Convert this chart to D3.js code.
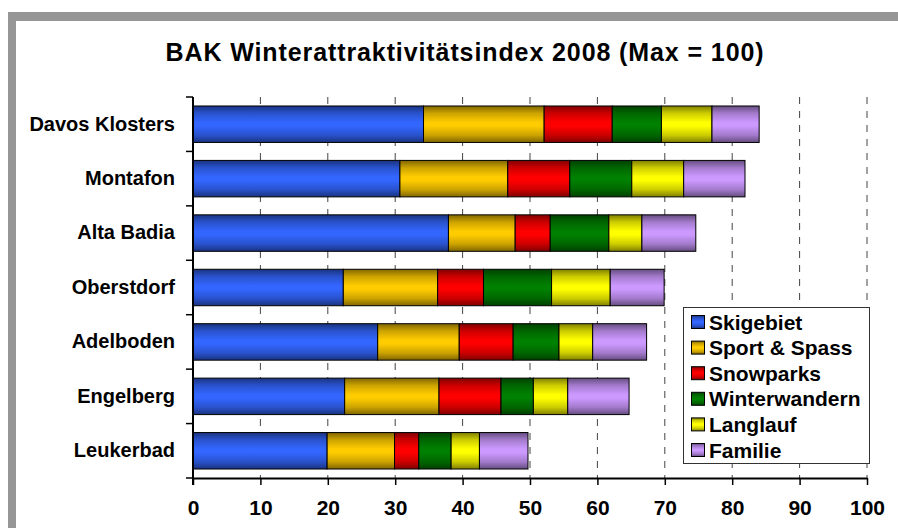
<!DOCTYPE html>
<html>
<head>
<meta charset="utf-8">
<script src="https://cdn.jsdelivr.net/npm/d3@7/dist/d3.min.js"></script>
<style>
  html, body { margin: 0; padding: 0; background: #fff; }
  svg { display: block; }
  text { font-family: "Liberation Sans", Arial, sans-serif; font-weight: bold; fill: #000; }
</style>
</head>
<body>
<svg id="chart" width="898" height="528"></svg>
<script>
const categories = ["Davos Klosters", "Montafon", "Alta Badia", "Oberstdorf", "Adelboden", "Engelberg", "Leukerbad"];
const seriesNames = ["Skigebiet", "Sport & Spass", "Snowparks", "Winterwandern", "Langlauf", "Familie"];
const skigebiet     = [34.2, 30.7, 37.9, 22.3, 27.4, 22.5, 19.9];
const sportSpass    = [17.9, 16.0,  9.9, 14.0, 12.1, 14.0, 10.0];
const snowparks     = [10.1,  9.2,  5.2,  6.8,  8.0,  9.2,  3.6];
const winterwandern = [ 7.3,  9.2,  8.7, 10.1,  6.8,  4.8,  4.8];
const langlauf      = [ 7.5,  7.7,  4.9,  8.7,  5.0,  5.1,  4.2];
const familie       = [ 7.0,  9.1,  8.0,  8.0,  8.0,  9.1,  7.2];
const xTicks = [0, 10, 20, 30, 40, 50, 60, 70, 80, 90, 100];
const titleText = "BAK Winterattraktivitätsindex 2008 (Max = 100)";

const seriesValues = [skigebiet, sportSpass, snowparks, winterwandern, langlauf, familie];
const colors = ["#3366ff", "#ffcc00", "#ff0000", "#008000", "#ffff00", "#cc99ff"];

const table = categories.map((c, i) => {
  const row = { cat: c };
  seriesNames.forEach((s, j) => row[s] = seriesValues[j][i]);
  return row;
});

const svg = d3.select("#chart");
svg.append("rect").attr("width", 898).attr("height", 528).attr("fill", "#fff");

// gray frame (top + left)
svg.append("rect").attr("x", 8).attr("y", 12).attr("width", 890).attr("height", 9).attr("fill", "#969696");
svg.append("rect").attr("x", 8).attr("y", 12).attr("width", 8).attr("height", 516).attr("fill", "#969696");

// gradients
const defs = svg.append("defs");
colors.forEach((c, i) => {
  const g = defs.append("linearGradient").attr("id", "grad" + i)
    .attr("x1", 0).attr("y1", 0).attr("x2", 0).attr("y2", 1);
  const dark = d3.interpolateRgb(c, "#000")(0.5);
  const mid = d3.interpolateRgb(c, "#000")(0.2);
  g.append("stop").attr("offset", "0%").attr("stop-color", dark);
  g.append("stop").attr("offset", "20%").attr("stop-color", mid);
  g.append("stop").attr("offset", "45%").attr("stop-color", c);
  g.append("stop").attr("offset", "55%").attr("stop-color", c);
  g.append("stop").attr("offset", "80%").attr("stop-color", mid);
  g.append("stop").attr("offset", "100%").attr("stop-color", dark);
});

const plot = { left: 193, right: 867, top: 97, bottom: 478 };
const x = d3.scaleLinear().domain([0, 100]).range([plot.left, plot.right]);
const y = d3.scaleBand().domain(categories).range([plot.top, plot.bottom])
  .paddingInner(0.33).paddingOuter(0.165);

// title
svg.append("text").attr("x", 465).attr("y", 61).attr("text-anchor", "middle")
  .style("font-size", "25px").style("letter-spacing", "0.9px").text(titleText);

// gridlines
svg.append("g").selectAll("line").data(xTicks.filter(t => t > 0)).join("line")
  .attr("x1", d => x(d)).attr("x2", d => x(d))
  .attr("y1", plot.top).attr("y2", plot.bottom)
  .attr("stroke", "#444").attr("stroke-width", 1).attr("stroke-dasharray", "7,7");

// bars
const stack = d3.stack().keys(seriesNames);
const stacked = stack(table);
svg.append("g").selectAll("g").data(stacked).join("g")
  .attr("fill", (d, i) => "url(#grad" + i + ")")
  .selectAll("rect").data(d => d).join("rect")
  .attr("x", d => x(d[0])).attr("width", d => x(d[1]) - x(d[0]))
  .attr("y", d => y(d.data.cat)).attr("height", y.bandwidth())
  .attr("stroke", "#000").attr("stroke-width", 1);

// x axis
const xAxis = svg.append("g").attr("transform", `translate(0,${plot.bottom})`)
  .call(d3.axisBottom(x).tickValues(xTicks).tickSize(7).tickSizeOuter(0).tickPadding(15));
xAxis.select(".domain").attr("stroke", "#000").attr("stroke-width", 2);
xAxis.selectAll(".tick line").attr("stroke", "#000").attr("stroke-width", 1.5);
xAxis.selectAll(".tick text").style("font-size", "21px")
  .style("font-family", '"Liberation Sans", Arial, sans-serif').style("font-weight", "bold");

// y axis (labels) with ticks at band boundaries
const yAxis = svg.append("g").attr("transform", `translate(${plot.left},0)`)
  .call(d3.axisLeft(y).tickSize(0).tickPadding(18));
yAxis.select(".domain").remove();
yAxis.selectAll(".tick text").style("font-size", "20px")
  .style("font-family", '"Liberation Sans", Arial, sans-serif').style("font-weight", "bold");
svg.append("line").attr("x1", plot.left).attr("x2", plot.left)
  .attr("y1", plot.top).attr("y2", plot.bottom + 7).attr("stroke", "#000").attr("stroke-width", 2);
const boundaries = categories.map(c => y(c) - y.step() * y.paddingInner() / 2).concat([plot.bottom]);
svg.append("g").selectAll("line").data(boundaries).join("line")
  .attr("x1", plot.left - 7).attr("x2", plot.left)
  .attr("y1", d => d).attr("y2", d => d)
  .attr("stroke", "#000").attr("stroke-width", 1.5);

// legend
const lg = svg.append("g");
lg.append("rect").attr("x", 683.5).attr("y", 307.5).attr("width", 186).attr("height", 156)
  .attr("fill", "#fff").attr("stroke", "#333").attr("stroke-width", 1);
const items = lg.selectAll("g.item").data(seriesNames).join("g").attr("class", "item")
  .attr("transform", (d, i) => `translate(691,${322 + i * 25.6})`);
items.append("rect").attr("x", 0.5).attr("y", -6.5).attr("width", 13).attr("height", 13)
  .attr("fill", (d, i) => "url(#grad" + i + ")").attr("stroke", "#000").attr("stroke-width", 1);
items.append("text").attr("x", 18).attr("dy", "0.36em").style("font-size", "21px").text(d => d);
</script>
</body>
</html>
